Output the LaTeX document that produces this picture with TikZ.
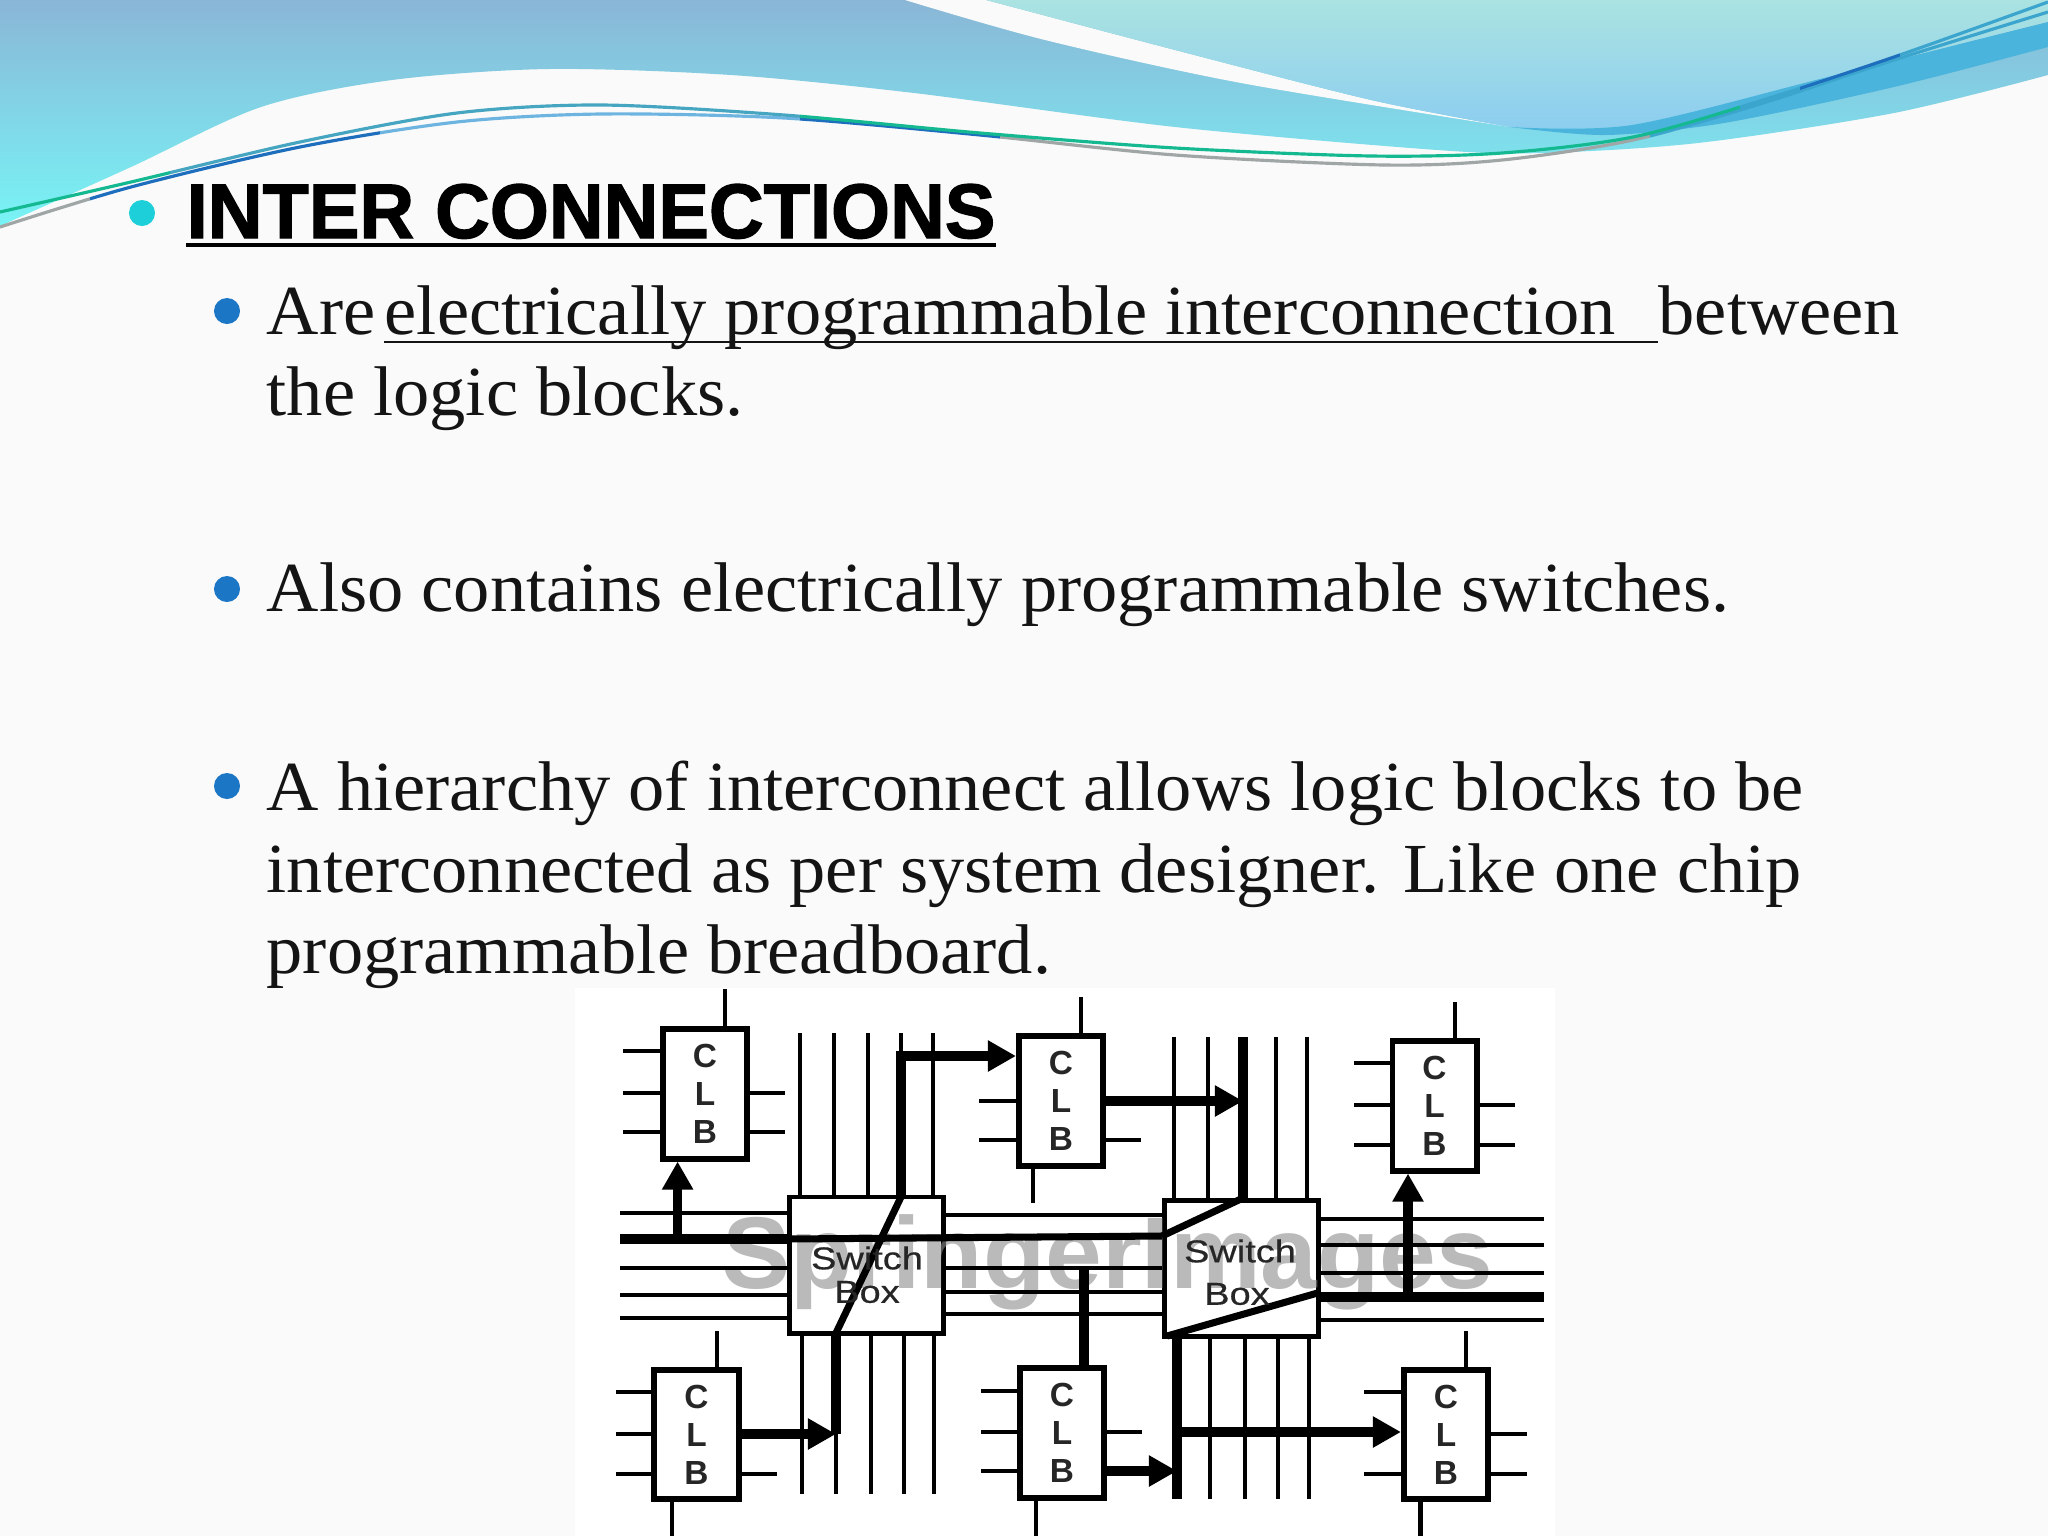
\documentclass[tikz,border=0pt]{standalone}
\usepackage{xcolor}
\usepackage{fontspec}
\usetikzlibrary{arrows.meta}
\setmainfont{Liberation Serif}
\newfontfamily\bodyfont[FakeStretch=1.03]{Liberation Serif}
\newfontfamily\titlefont[FakeBold=1.6,FakeStretch=0.98]{Liberation Sans Bold}
\newfontfamily\clbfont{Liberation Sans Bold}
\newfontfamily\swfont[FakeStretch=1.2,FakeBold=0.5]{Liberation Sans}
\definecolor{pagebg}{HTML}{FAFAFA}
\definecolor{inktext}{HTML}{141414}
\definecolor{bulletblue}{HTML}{1B76C6}
\definecolor{bulletcyan}{HTML}{1CCFD8}
\definecolor{lineteal}{HTML}{46A5C0}
\definecolor{linegreen}{HTML}{14B991}
\definecolor{linesky}{HTML}{6EB4E1}
\definecolor{linedeep}{HTML}{1E6EBE}
\definecolor{linegray}{HTML}{A0A5A5}
\definecolor{lineblue}{HTML}{3CA5CD}
\newcommand{\curvea}{plot [smooth] coordinates {(0,212) (131,182) (300,142) (457,113) (601,105) (784,115) (980,133) (1175,148) (1371,156) (1502,153) (1633,137) (1763,100) (1894,57) (2048,2)}}
\newcommand{\curveb}{plot [smooth] coordinates {(0,227) (131,187) (300,147) (457,122) (601,114) (784,118) (980,135) (1175,155) (1384,165) (1502,160) (1633,140) (1763,103) (1894,60) (2048,12)}}
\begin{document}
\begin{tikzpicture}[x=0.01cm,y=-0.01cm]
    \tikzstyle{C}=[rectangle,draw=black,fill=white,line width=1.7pt,minimum width=0.84cm,minimum height=1.29cm,inner sep=0pt,align=center,text=black!85,font=\clbfont\fontsize{9.5}{10.8}\selectfont]
    \tikzstyle{S}=[rectangle,draw=black,fill=white,line width=1.4pt,minimum width=1.54cm,minimum height=1.36cm,inner sep=0pt]
    \tikzstyle{N}=[inner sep=0pt,text=black!85,font=\swfont\fontsize{9}{10.8}\selectfont]
    \tikzstyle{T}=[anchor=base west,inner sep=0pt,text=inktext,font=\bodyfont\fontsize{20}{23}\selectfont]
    \tikzstyle{W}=[line width=1.25pt,black]
    \tikzstyle{B}=[line width=2.8pt,black]
    \tikzstyle{D}=[line width=2pt,black]
    \tikzstyle{A}=[line width=2.6pt,black,-{Triangle[length=8pt,width=8.4pt]}]
    \tikzstyle{P}=[circle,fill=bulletblue,minimum size=0.26cm,inner sep=0pt]
    \tikzstyle{Q}=[line width=0.9pt]

    \useasboundingbox (0,0) rectangle (2048,1536);
    \fill [pagebg] (0,0) rectangle (2048,1536);

    % Draw header waves
    \shade [top color={rgb,255:red,138;green,182;blue,214},middle color={rgb,255:red,120;green,216;blue,230},bottom color={rgb,255:red,120;green,244;blue,246}]
        (0,0) -- (2048,0) -- plot [smooth] coordinates {(2048,75) (1894,113) (1698,143) (1541,153) (1437,150) (1175,127) (914,93) (731,75) (549,69) (392,80) (261,107) (131,167) (0,226)} -- cycle;
    \fill [pagebg] plot [smooth] coordinates {(905,0) (1045,40) (1241,83) (1510,127)} -- plot [smooth] coordinates {(1510,127) (1371,100) (1175,50) (986,0)} -- cycle;
    \shade [top color={rgb,255:red,170;green,227;blue,225},bottom color={rgb,255:red,140;green,205;blue,240}]
        plot [smooth] coordinates {(986,0) (1175,50) (1371,100) (1510,127)} -- plot [smooth] coordinates {(1510,127) (1632,125) (1828,77) (2048,22)} -- (2048,0) -- cycle;
    \fill [color={rgb,255:red,75;green,180;blue,220}]
        plot [smooth] coordinates {(1510,127) (1606,135) (1724,123) (1894,87) (2048,47)} -- plot [smooth] coordinates {(2048,22) (1828,77) (1632,125) (1510,127)} -- cycle;

    % Thin curves over the waves
    \begin{scope} \clip (0,0) rectangle (90,300); \draw [Q,linegray] \curveb; \end{scope}
    \begin{scope} \clip (90,0) rectangle (380,300); \draw [Q,linedeep] \curveb; \end{scope}
    \begin{scope} \clip (380,0) rectangle (800,300); \draw [Q,linesky] \curveb; \end{scope}
    \begin{scope} \clip (800,0) rectangle (1000,300); \draw [Q,linedeep] \curveb; \end{scope}
    \begin{scope} \clip (1000,0) rectangle (1650,300); \draw [Q,linegray] \curveb; \end{scope}
    \begin{scope} \clip (1650,0) rectangle (2048,300); \draw [Q,lineblue] \curveb; \end{scope}
    \begin{scope} \clip (0,0) rectangle (170,300); \draw [Q,linegreen] \curvea; \end{scope}
    \begin{scope} \clip (170,0) rectangle (800,300); \draw [Q,lineteal] \curvea; \end{scope}
    \begin{scope} \clip (800,0) rectangle (1740,300); \draw [Q,linegreen] \curvea; \end{scope}
    \begin{scope} \clip (1740,0) rectangle (1800,300); \draw [Q,lineblue] \curvea; \end{scope}
    \begin{scope} \clip (1800,0) rectangle (1900,300); \draw [Q,linedeep] \curvea; \end{scope}
    \begin{scope} \clip (1900,0) rectangle (2048,300); \draw [Q,lineblue] \curvea; \end{scope}

    % Heading
    \node [P,fill=bulletcyan] (dota) at (142,213) {};
    \node [anchor=base west,inner sep=0pt,text=black,font=\titlefont\fontsize{22}{26}\selectfont] (title) at (186,238) {INTER CONNECTIONS};
    \draw [line width=1.2pt,black] (title.base west |- 0,245) -- (title.base east |- 0,245);

    % Bullet text
    \node [P] (dotb) at (227,311) {};
    \node [T] (are) at (266,334) {Are};
    \node [T] (elec) at (384,334) {electrically programmable interconnection};
    \node [T] (betw) at (1658,334) {between};
    \draw [line width=0.8pt,inktext] (elec.base west |- 0,342) -- (betw.base west |- 0,342);
    \node [T] (logic) at (266,415) {the logic blocks.};
    \node [P] (dotc) at (227,589) {};
    \node [T] (also) at (266,611) {Also contains electrically programmable switches.};
    \node [P] (dotd) at (227,786) {};
    \node [T] (hier) at (266,810) {A hierarchy of interconnect allows logic blocks to be};
    \node [T] (inter) at (266,892) {interconnected as per system designer. Like one chip};
    \node [T] (bread) at (266,973) {programmable breadboard.};

    % White picture area
    \fill [white] (575,988) rectangle (1555,1536);

    % Free ends of the routing wires
    \coordinate (leftend) at (620,0);
    \coordinate (rightend) at (1544,0);
    \coordinate (topa) at (0,1033);
    \coordinate (bota) at (0,1494);
    \coordinate (topb) at (0,1037);
    \coordinate (botb) at (0,1499);

    % Blocks
    \node [C] (clba) at (705,1094) {C\\L\\B};
    \node [C] (clbb) at (1061,1101) {C\\L\\B};
    \node [C] (clbc) at (1434.5,1106) {C\\L\\B};
    \node [C] (clbd) at (696.5,1434.5) {C\\L\\B};
    \node [C] (clbe) at (1062,1433) {C\\L\\B};
    \node [C] (clbf) at (1446,1434.5) {C\\L\\B};

    % Switch boxes
    \node [S] (sba) at (866.5,1265) {};
    \node [S] (sbb) at (1241.5,1268.5) {};

    % Watermark under the wires
    \node [text=black!45,opacity=0.6,inner sep=0pt,font=\clbfont\fontsize{29}{32}\selectfont] (mark) at (1108,1262) {SpringerImages};

    % Stubs on first block
    \draw [W] (clba.north -| 725,0) -- ++(0,-37);
    \draw [W] (clba.west |- 0,1051) -- ++(-37,0);
    \draw [W] (clba.west |- 0,1093) -- ++(-37,0);
    \draw [W] (clba.west |- 0,1132) -- ++(-37,0);
    \draw [W] (clba.east |- 0,1093) -- ++(35,0);
    \draw [W] (clba.east |- 0,1132) -- ++(35,0);

    % Stubs on second block
    \draw [W] (clbb.north -| 1081,0) -- ++(0,-36);
    \draw [W] (clbb.west |- 0,1101) -- ++(-37,0);
    \draw [W] (clbb.west |- 0,1140) -- ++(-37,0);
    \draw [W] (clbb.east |- 0,1140) -- ++(35,0);
    \draw [W] (clbb.south -| 1033,0) -- ++(0,34);

    % Stubs on third block
    \draw [W] (clbc.north -| 1455,0) -- ++(0,-36);
    \draw [W] (clbc.west |- 0,1063) -- ++(-36,0);
    \draw [W] (clbc.west |- 0,1105) -- ++(-36,0);
    \draw [W] (clbc.west |- 0,1145) -- ++(-36,0);
    \draw [W] (clbc.east |- 0,1105) -- ++(35,0);
    \draw [W] (clbc.east |- 0,1145) -- ++(35,0);

    % Stubs on fourth block
    \draw [W] (clbd.north -| 717,0) -- ++(0,-36);
    \draw [W] (clbd.west |- 0,1392) -- ++(-35,0);
    \draw [W] (clbd.west |- 0,1434) -- ++(-35,0);
    \draw [W] (clbd.west |- 0,1474) -- ++(-35,0);
    \draw [W] (clbd.east |- 0,1474) -- ++(35,0);
    \draw [W] (clbd.south -| 672,0) -- ++(0,36);

    % Stubs on fifth block
    \draw [W] (clbe.west |- 0,1391) -- ++(-36,0);
    \draw [W] (clbe.west |- 0,1432) -- ++(-36,0);
    \draw [W] (clbe.west |- 0,1471) -- ++(-36,0);
    \draw [W] (clbe.east |- 0,1432) -- ++(35,0);
    \draw [W] (clbe.south -| 1036,0) -- ++(0,35);

    % Stubs on sixth block
    \draw [W] (clbf.north -| 1466,0) -- ++(0,-36);
    \draw [W] (clbf.west |- 0,1392) -- ++(-37,0);
    \draw [W] (clbf.west |- 0,1474) -- ++(-37,0);
    \draw [W] (clbf.east |- 0,1434) -- ++(36,0);
    \draw [W] (clbf.east |- 0,1474) -- ++(36,0);
    \draw [W] (clbf.south -| 1420.5,0) -- ++(0,37);

    % Vertical wires at first switch box
    \draw [W] (800,0 |- sba.north) -- (800,0 |- topa);
    \draw [W] (834,0 |- sba.north) -- (834,0 |- topa);
    \draw [W] (868,0 |- sba.north) -- (868,0 |- topa);
    \draw [W] (901,0 |- sba.north) -- (901,0 |- topa);
    \draw [W] (933,0 |- sba.north) -- (933,0 |- topa);
    \draw [W] (802,0 |- sba.south) -- (802,0 |- bota);
    \draw [W] (836,0 |- sba.south) -- (836,0 |- bota);
    \draw [W] (871,0 |- sba.south) -- (871,0 |- bota);
    \draw [W] (904,0 |- sba.south) -- (904,0 |- bota);
    \draw [W] (934,0 |- sba.south) -- (934,0 |- bota);

    % Vertical wires at second switch box
    \draw [W] (1174,0 |- sbb.north) -- (1174,0 |- topb);
    \draw [W] (1208,0 |- sbb.north) -- (1208,0 |- topb);
    \draw [B] (1243,0 |- sbb.north) -- (1243,0 |- topb);
    \draw [W] (1276,0 |- sbb.north) -- (1276,0 |- topb);
    \draw [W] (1307,0 |- sbb.north) -- (1307,0 |- topb);
    \draw [B] (1177,0 |- sbb.south) -- (1177,0 |- botb);
    \draw [W] (1210,0 |- sbb.south) -- (1210,0 |- botb);
    \draw [W] (1245,0 |- sbb.south) -- (1245,0 |- botb);
    \draw [W] (1278,0 |- sbb.south) -- (1278,0 |- botb);
    \draw [W] (1309,0 |- sbb.south) -- (1309,0 |- botb);

    % Horizontal wires on the left
    \draw [W] (sba.west |- 0,1213) -- (leftend |- 0,1213);
    \draw [W] (sba.west |- 0,1268) -- (leftend |- 0,1268);
    \draw [W] (sba.west |- 0,1295) -- (leftend |- 0,1295);
    \draw [W] (sba.west |- 0,1318) -- (leftend |- 0,1318);

    % Horizontal wires between the boxes
    \draw [W] (sba.east |- 0,1215) -- (sbb.west |- 0,1215);
    \draw [W] (sba.east |- 0,1268) -- (sbb.west |- 0,1268);
    \draw [W] (sba.east |- 0,1292) -- (sbb.west |- 0,1292);
    \draw [W] (sba.east |- 0,1314) -- (sbb.west |- 0,1314);

    % Horizontal wires on the right
    \draw [W] (sbb.east |- 0,1219) -- (rightend |- 0,1219);
    \draw [W] (sbb.east |- 0,1245) -- (rightend |- 0,1245);
    \draw [W] (sbb.east |- 0,1273) -- (rightend |- 0,1273);
    \draw [B] (sbb.east |- 0,1297) -- (rightend |- 0,1297);
    \draw [W] (sbb.east |- 0,1320) -- (rightend |- 0,1320);

    % Routed paths
    \coordinate (busa) at (677.6,1239);
    \coordinate (busb) at (1408,1296);
    \coordinate (viaa) at (836,1434);
    \coordinate (viab) at (836,1333);
    \coordinate (viac) at (901,1197);
    \coordinate (viad) at (901,1056);
    \coordinate (viae) at (1177,1432);

    \draw [B] (leftend |- 0,1239) -- (sba.west |- 0,1239);
    \draw [D] (sba.west |- 0,1239) -- (sbb.west |- 0,1236);
    \draw [D] (sbb.west |- 0,1236) -- (1243,0 |- sbb.north);
    \draw [D] (1167,1336) -- (sbb.east |- 0,1292);
    \draw [B] (viaa) -- (viab);
    \draw [D] (viab) -- (viac);
    \draw [B] (viac) -- (viad);

    % Arrows
    \draw [A] (busa) -- (busa |- clba.south);
    \draw [A] (busb) -- (busb |- clbc.south);
    \draw [A] (clbd.east |- viaa) -- (viaa);
    \draw [A] ([xshift=-1.4pt]viad) -- (clbb.west |- viad);
    \draw [A] (clbb.east) -- (1243,0 |- clbb.east);
    \draw [B] (clbe.north -| 1084,0) -- (1084,1268);
    \draw [A] (clbe.east |- 0,1471) -- (1177,1471);
    \draw [A] (viae) -- (clbf.west |- viae);

    % Labels in the switch boxes
    \node [N] (swa) at (867,1258) {Switch};
    \node [N] (boxa) at (867,1292) {Box};
    \node [N] (swb) at (1240,1251) {Switch};
    \node [N] (boxb) at (1237,1294) {Box};
\end{tikzpicture}
\end{document}
